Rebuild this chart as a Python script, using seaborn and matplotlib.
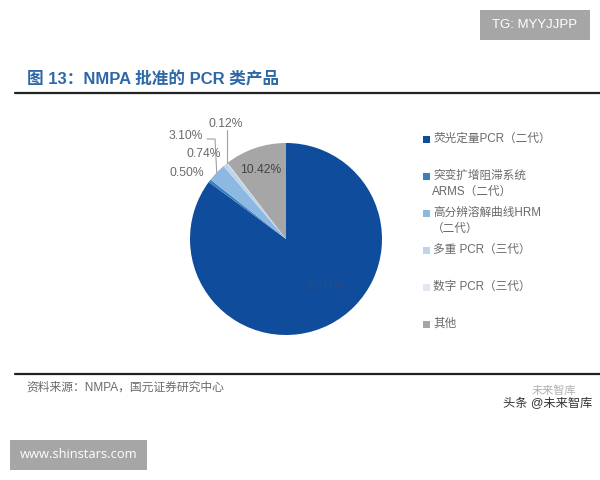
import numpy as np
import seaborn as sns
import matplotlib.pyplot as plt
from matplotlib.patches import Rectangle

categories = ['荧光定量PCR（二代）', '突变扩增阻滞系统\nARMS（二代）', '高分辨溶解曲线HRM\n（二代）',
              '多重 PCR（三代）', '数字 PCR（三代）', '其他']
shares = [85.11, 0.50, 3.10, 0.74, 0.12, 10.42]
share_labels = ['85.11%', '0.50%', '3.10%', '0.74%', '0.12%', '10.42%']
slice_colors = ['#0f4c9b', '#3a7fc0', '#8db8e2', '#bcd5ea', '#e0e8f5', '#a6a6a6']

title = '图 13：NMPA 批准的 PCR 类产品'
source = '资料来源：NMPA，国元证券研究中心'

sns.set_style('white')
plt.rcParams['font.family'] = ['Liberation Sans', 'Noto Sans CJK SC']
grey = '#6a6a6a'


def top(y):
    # pixel rows counted from the top of the picture
    return 480 - y


fig = plt.figure(figsize=(6, 4.8), dpi=100)
ax = fig.add_axes([0, 0, 1, 1])

cx, cy, r = 286, top(239), 96
wedges, _ = ax.pie(shares, colors=sns.color_palette(slice_colors), startangle=90,
                   counterclock=False, center=(cx, cy), radius=r,
                   wedgeprops={'linewidth': 0})
ax.set_xlim(0, 600)
ax.set_ylim(0, 480)
ax.set_aspect('equal')
ax.axis('off')

# slice labels, placed by hand where the picture has them
label_pos = [(326, 287), (187, 173), (186, 136), (204, 154), (226, 124), (261, 170)]
label_cols = ['#2f4a78', grey, grey, grey, grey, '#444444']
for txt, (x, y), c in zip(share_labels, label_pos, label_cols):
    ax.text(x, top(y), txt, color=c, fontsize=8.7, ha='center', va='center')

# leader lines for the two thin slices
def edge(w):
    a = np.deg2rad((w.theta1 + w.theta2) / 2)
    return cx + r * np.cos(a), cy + r * np.sin(a)


ex, ey = edge(wedges[2])
ax.plot([207, 215, ex], [top(139), top(139), ey], color='#a0a0a0', lw=0.8)
ex, ey = edge(wedges[4])
ax.plot([ex, ex], [top(130), ey], color='#a0a0a0', lw=0.8)

# legend
for i, (name, c) in enumerate(zip(categories, slice_colors)):
    y = 139 + 37 * i
    ax.add_patch(Rectangle((423, top(y + 3.5)), 7, 7, color=c, lw=0))
    first, *rest = name.split('\n')
    ax.text(433, top(y), first, color=grey, fontsize=8.4, va='center')
    if rest:
        ax.text(432, top(y + 15.5), rest[0], color=grey, fontsize=8.4, va='center')

# header and footer
ax.text(27, top(79), title, color='#2f68a6', fontsize=12, fontweight='bold', va='center')
ax.plot([15, 600], [top(92.5), top(92.5)], color='#222222', lw=1.6)
ax.plot([15, 600], [top(374), top(374)], color='#222222', lw=1.6)
ax.text(26, top(388), source, color=grey, fontsize=8.5, va='center')

ax.add_patch(Rectangle((480, top(40)), 110, 30, color='#a6a6a6', lw=0))
ax.text(535, top(25), 'TG: MYYJJPP', color='white', fontsize=9.5, ha='center', va='center')
ax.add_patch(Rectangle((10, top(470)), 137, 30, color='#a6a6a6', lw=0))
ax.text(78.5, top(455), 'www.shinstars.com', color='white', fontsize=9.3, ha='center', va='center',
        family=['Open Sans'])

# watermark
ax.text(554, top(391), '未来智库', color='#b0b0b0', fontsize=8, ha='center', va='center')
ax.text(548, top(404), '头条 @未来智库', color='#333333', fontsize=8.8, ha='center', va='center')

fig.savefig('out.png', dpi=100)
